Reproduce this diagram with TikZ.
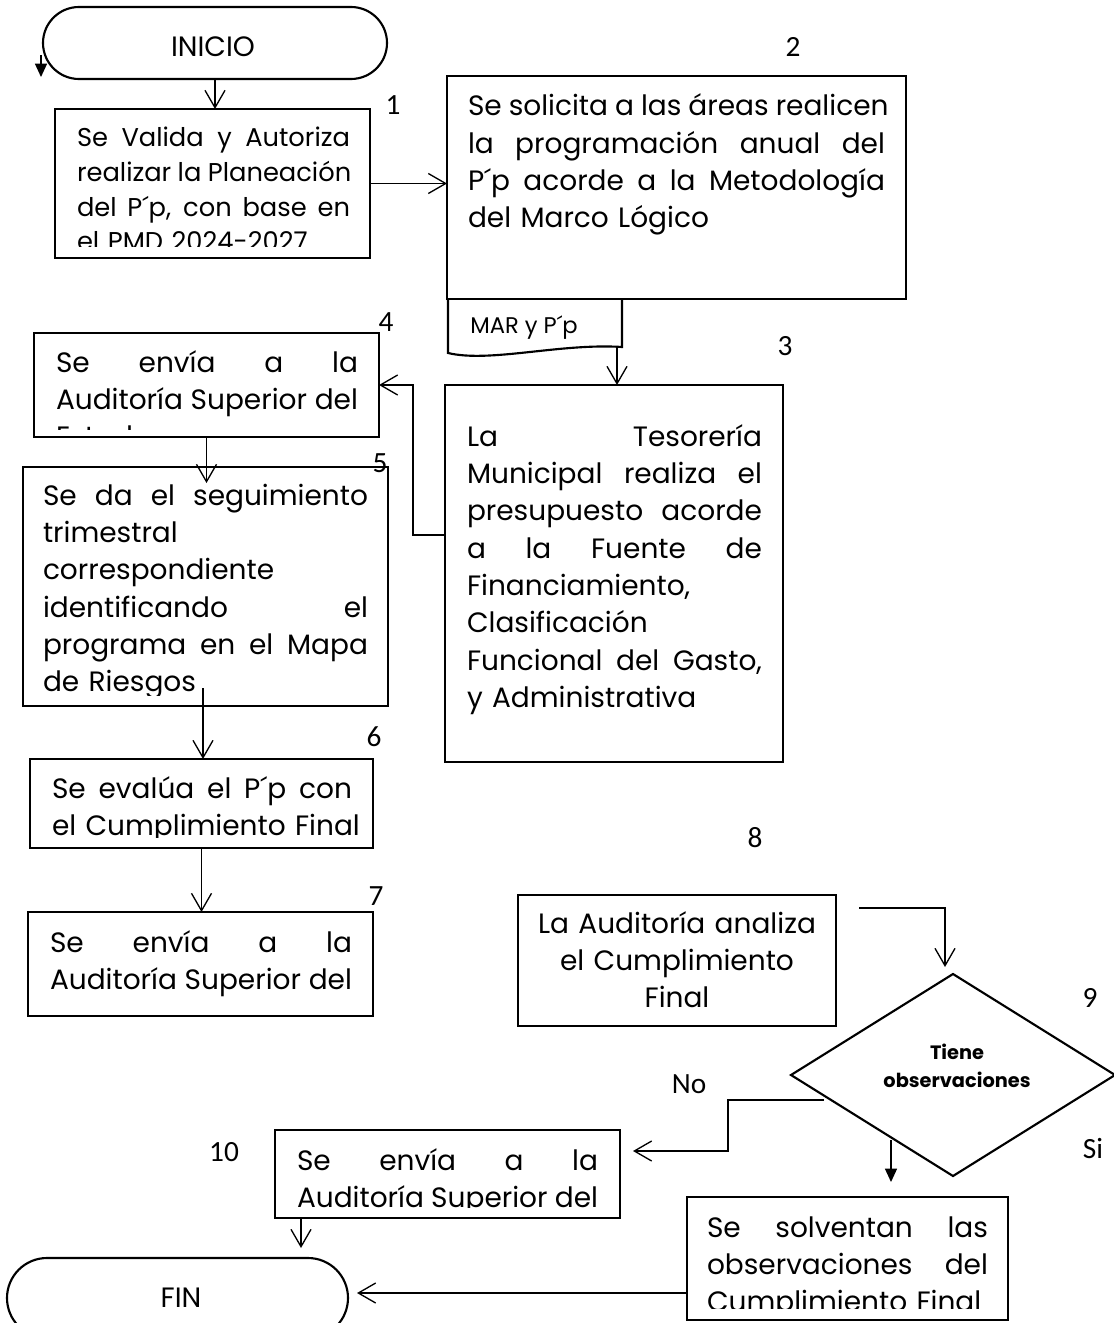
\documentclass[tikz,border=0pt]{standalone}
\usepackage{fontspec}
\setmainfont{Poppins}
\newfontfamily\numf{Carlito}
\usetikzlibrary{arrows.meta,shapes.geometric}
\newcommand\jl[1]{\hbox to \linewidth{\spaceskip=.25em plus 1fill\xspaceskip=\spaceskip\relax #1}\par}
\newcommand\lf[1]{\hbox{#1}\par}
\newcommand\ctl[1]{\hbox to \linewidth{\hfil#1\hfil}\par}
\newcommand\bodyf{\fontsize{21}{28}\selectfont}
\begin{document}
\begin{tikzpicture}[x=0.75pt,y=-0.75pt,
  box/.style={draw, line width=1.6pt, inner sep=0pt, outer sep=0pt},
  conn/.style={line width=1pt, -{Straight Barb[length=13pt,width=15pt]}},
  fconn/.style={line width=1pt, -{Triangle[length=10pt,width=9pt]}},
  txt/.style={anchor=base west, inner sep=0pt, outer sep=0pt, text width=#1, font=\bodyf},
  num/.style={inner sep=0pt, font=\numf\fontsize{22}{24}\selectfont},
]
\useasboundingbox (0,0) rectangle (1113,1323);
\fill[white] (0,0) rectangle (1113,1323);

% terminals
\node[box, rounded corners=27pt, minimum width=258pt, minimum height=54pt] (inicio) at (215,43) {};
\node[inner sep=0pt, font=\fontsize{21}{24}\selectfont] (tinicio) at (213,47) {INICIO};
\node[box, rounded corners=30pt, minimum width=255.75pt, minimum height=60pt] (fin) at (177.5,1298) {};
\node[inner sep=0pt, font=\fontsize{21}{24}\selectfont] (tfin) at (181,1298) {FIN};

% boxes
\node[box, minimum width=236.25pt, minimum height=111.75pt] (b1) at (212.5,183.5) {};
\node[box, minimum width=344.25pt, minimum height=167.25pt] (b2) at (676.5,187.5) {};
\node[box, minimum width=253.5pt, minimum height=282.75pt] (b3) at (614,573.5) {};
\node[box, minimum width=258.75pt, minimum height=78pt] (b4) at (206.5,385) {};
\node[box, minimum width=273.75pt, minimum height=179.25pt] (b5) at (205.5,586.5) {};
\node[box, minimum width=257.25pt, minimum height=66.75pt] (b6) at (201.5,803.5) {};
\node[box, minimum width=258.75pt, minimum height=78pt] (b7) at (200.5,964) {};
\node[box, minimum width=238.5pt, minimum height=98.25pt] (b8) at (677,960.5) {};
\node[box, minimum width=258.75pt, minimum height=66pt] (b10) at (447.5,1174) {};
\node[box, minimum width=240.75pt, minimum height=92.25pt] (b11) at (847.5,1258.5) {};
\node[box, diamond, minimum width=243pt, minimum height=151.5pt] (d9) at (953,1075) {};
\node[inner sep=0pt, align=center, font=\bfseries\fontsize{14.5}{21}\selectfont] (t9) at (957,1066) {Tiene\\observaciones};

% document shape
\draw[line width=1.6pt] (448,299) -- (448,353) .. controls (490,363) and (560,343) .. (622,347) -- (622,299);
\node[anchor=base west, inner sep=0pt, font=\fontsize{17}{20}\selectfont] (doc) at (470,333) {MAR y P´p};

% texts
\begin{scope}
\clip (55,109) rectangle (370,247);
\node[txt=204.75pt, font=\fontsize{19.3}{26}\selectfont] (t1) at (77,147) {\jl{Se Valida y Autoriza}\jl{realizar la Planeación}\jl{del P´p, con base en}\lf{el PMD 2024-2027}};
\end{scope}
\node[txt=312.75pt] (t2) at (468,116) {\jl{Se solicita a las áreas realicen}\jl{la programación anual del}\jl{P´p acorde a la Metodología}\lf{del Marco Lógico}};
\node[txt=221.25pt] (t3) at (467,446) {\jl{La Tesorería}\jl{Municipal realiza el}\jl{presupuesto acorde}\jl{a la Fuente de}\lf{Financiamiento,}\lf{Clasificación}\jl{Funcional del Gasto,}\lf{y Administrativa}};
\begin{scope}
\clip (34,333) rectangle (379,429);
\node[txt=226.5pt] (t4) at (56,372) {\jl{Se envía a la}\jl{Auditoría Superior del}\lf{Estado}};
\end{scope}
\begin{scope}
\clip (23,467) rectangle (388,695);
\node[txt=243.75pt] (t5) at (43,505) {\jl{Se da el seguimiento}\lf{trimestral}\lf{correspondiente}\jl{identificando el}\jl{programa en el Mapa}\lf{de Riesgos}};
\end{scope}
\begin{scope}
\clip (30,759) rectangle (373,837);
\node[txt=225pt] (t6) at (52,798) {\jl{Se evalúa el P´p con}\lf{el Cumplimiento Final}};
\end{scope}
\begin{scope}
\clip (28,912) rectangle (373,1000);
\node[txt=226.5pt] (t7) at (50,952) {\jl{Se envía a la}\jl{Auditoría Superior del}};
\end{scope}
\node[txt=225pt] (t8) at (527,933) {\ctl{La Auditoría analiza}\ctl{el Cumplimiento}\ctl{Final}};
\begin{scope}
\clip (275,1130) rectangle (620,1207);
\node[txt=225.75pt] (t10) at (297,1170) {\jl{Se envía a la}\jl{Auditoría Superior del}};
\end{scope}
\begin{scope}
\clip (687,1197) rectangle (1008,1308);
\node[txt=210.75pt] (t11) at (707,1237) {\jl{Se solventan las}\jl{observaciones del}\lf{Cumplimiento Final}};
\end{scope}

% numbers and labels
\node[num] (n1) at (393,105) {1};
\node[num] (n2) at (793,47) {2};
\node[num] (n3) at (785,346) {3};
\node[num] (n4) at (386,322) {4};
\node[num] (n5) at (380,463) {5};
\node[num] (n6) at (374,737) {6};
\node[num] (n7) at (376,896) {7};
\node[num] (n8) at (755,838) {8};
\node[num] (n9) at (1090,998) {9};
\node[num] (n10) at (224,1152) {10};
\node[num] (lno) at (689,1084) {No};
\node[num] (lsi) at (1093,1148) {Si};

% connectors
\coordinate (ia) at (41,55);
\coordinate (ib) at (41,77);
\draw[fconn] (ia) -- (ib);
\draw[conn] (inicio.south) -- (inicio.south |- b1.north);
\draw[conn] (b1.east) -- (b1.east -| b2.west);
\coordinate (sdoc) at (617,347);
\draw[conn] (sdoc) -- (sdoc |- b3.north);
\coordinate (k34) at (413,535);
\draw[conn] (b3.west |- k34) -- (k34) |- (b4.east);
\coordinate (e45) at (206.5,483);
\draw[conn] (b4.south) -- (e45);
\coordinate (s56) at (203,688);
\draw[conn] (s56) -- (s56 |- b6.north);
\draw[conn] (b6.south) -- (b6.south |- b7.north);
\coordinate (s89) at (859,908);
\coordinate (e89) at (945,967);
\draw[conn] (s89) -| (e89);
\coordinate (sno) at (824,1100);
\coordinate (mno) at (728,1151);
\coordinate (eno) at (633,1151);
\draw[conn] (sno) -| (mno) -- (eno);
\coordinate (ssi) at (891,1140);
\coordinate (esi) at (891,1182);
\draw[fconn] (ssi) -- (esi);
\coordinate (e10) at (301,1248);
\draw[conn] (e10 |- b10.south) -- (e10);
\coordinate (efin) at (357,1293);
\draw[conn] (b11.west |- efin) -- (efin);
\end{tikzpicture}
\end{document}
